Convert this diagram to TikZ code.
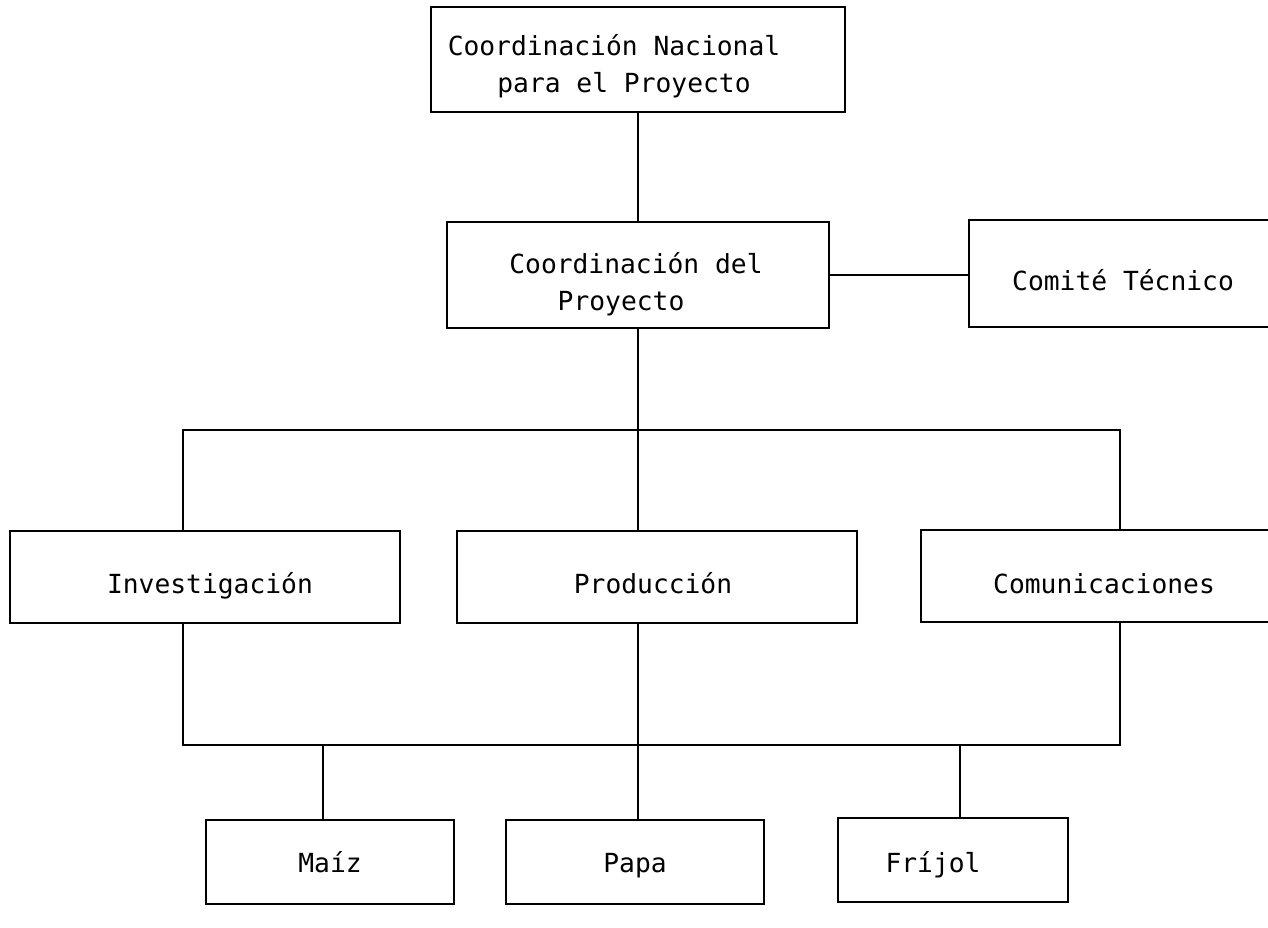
\documentclass[tikz,border=0pt]{standalone}
\usepackage{fontspec}
\newfontfamily\labelfont{DejaVu Sans Mono}
\begin{document}
\begin{tikzpicture}[x=1pt,y=-1pt,
  box/.style={draw, line width=2.5pt, rectangle, inner sep=0pt, outer sep=0pt},
  lbl/.style={font=\labelfont\fontsize{26.3}{36}\selectfont, anchor=base, inner sep=0pt},
  link/.style={line width=2.5pt}]
\useasboundingbox[fill=white] (0,0) rectangle (1268,927);

% organisational boxes
\node[box, minimum width=414pt, minimum height=105pt] (nac)  at (638,59.5)  {};
\node[box, minimum width=382pt, minimum height=106pt] (coord) at (638,275) {};
\node[box, minimum width=308pt, minimum height=107pt] (tec)  at (1123,273.5) {};
\node[box, minimum width=390pt, minimum height=92pt]  (inv)  at (205,577)   {};
\node[box, minimum width=400pt, minimum height=92pt]  (prod) at (657,577)   {};
\node[box, minimum width=366pt, minimum height=92pt]  (com)  at (1104,576)  {};
\node[box, minimum width=248pt, minimum height=84pt]  (maiz) at (330,862)   {};
\node[box, minimum width=258pt, minimum height=84pt]  (papa) at (635,862)   {};
\node[box, minimum width=230pt, minimum height=84pt]  (frij) at (953,860)   {};

% labels
\node[lbl] (nac1)  at (614,55)  {Coordinación Nacional};
\node[lbl] (nac2)  at (624,92)  {para el Proyecto};
\node[lbl] (crd1)  at (636,273) {Coordinación del};
\node[lbl] (crd2)  at (621,310) {Proyecto};
\node[lbl] (tecl)  at (1123,290) {Comité Técnico};
\node[lbl] (invl)  at (210,593) {Investigación};
\node[lbl] (prodl) at (653,593) {Producción};
\node[lbl] (coml)  at (1104,593) {Comunicaciones};
\node[lbl] (maizl) at (330,872) {Maíz};
\node[lbl] (papal) at (635,872) {Papa};
\node[lbl] (frijl) at (933,872) {Fríjol};

% junction points of the two distribution bars
\coordinate (uA) at (183,430);
\coordinate (uC) at (1120,430);
\coordinate (lA) at (183,745);
\coordinate (lC) at (1120,745);
\coordinate (dM) at (323,745);
\coordinate (dF) at (960,745);

% connectors
\draw[link] (nac.south) -- (coord.north);
\draw[link] (coord.east) -- (coord.east -| tec.west);
\draw[link] (coord.south) -- (coord.south |- uA);
\draw[link] (inv.north -| uA) -- (uA) -- (uC) -- (com.north -| uC);
\draw[link] (coord.south |- uA) -- (prod.north -| coord.south);
\draw[link] (inv.south -| lA) -- (lA) -- (lC) -- (com.south -| lC);
\draw[link] (prod.south -| coord.south) -- (lA -| coord.south);
\draw[link] (dM) -- (maiz.north -| dM);
\draw[link] (lA -| coord.south) -- (papa.north -| coord.south);
\draw[link] (dF) -- (frij.north -| dF);
\end{tikzpicture}
\end{document}
